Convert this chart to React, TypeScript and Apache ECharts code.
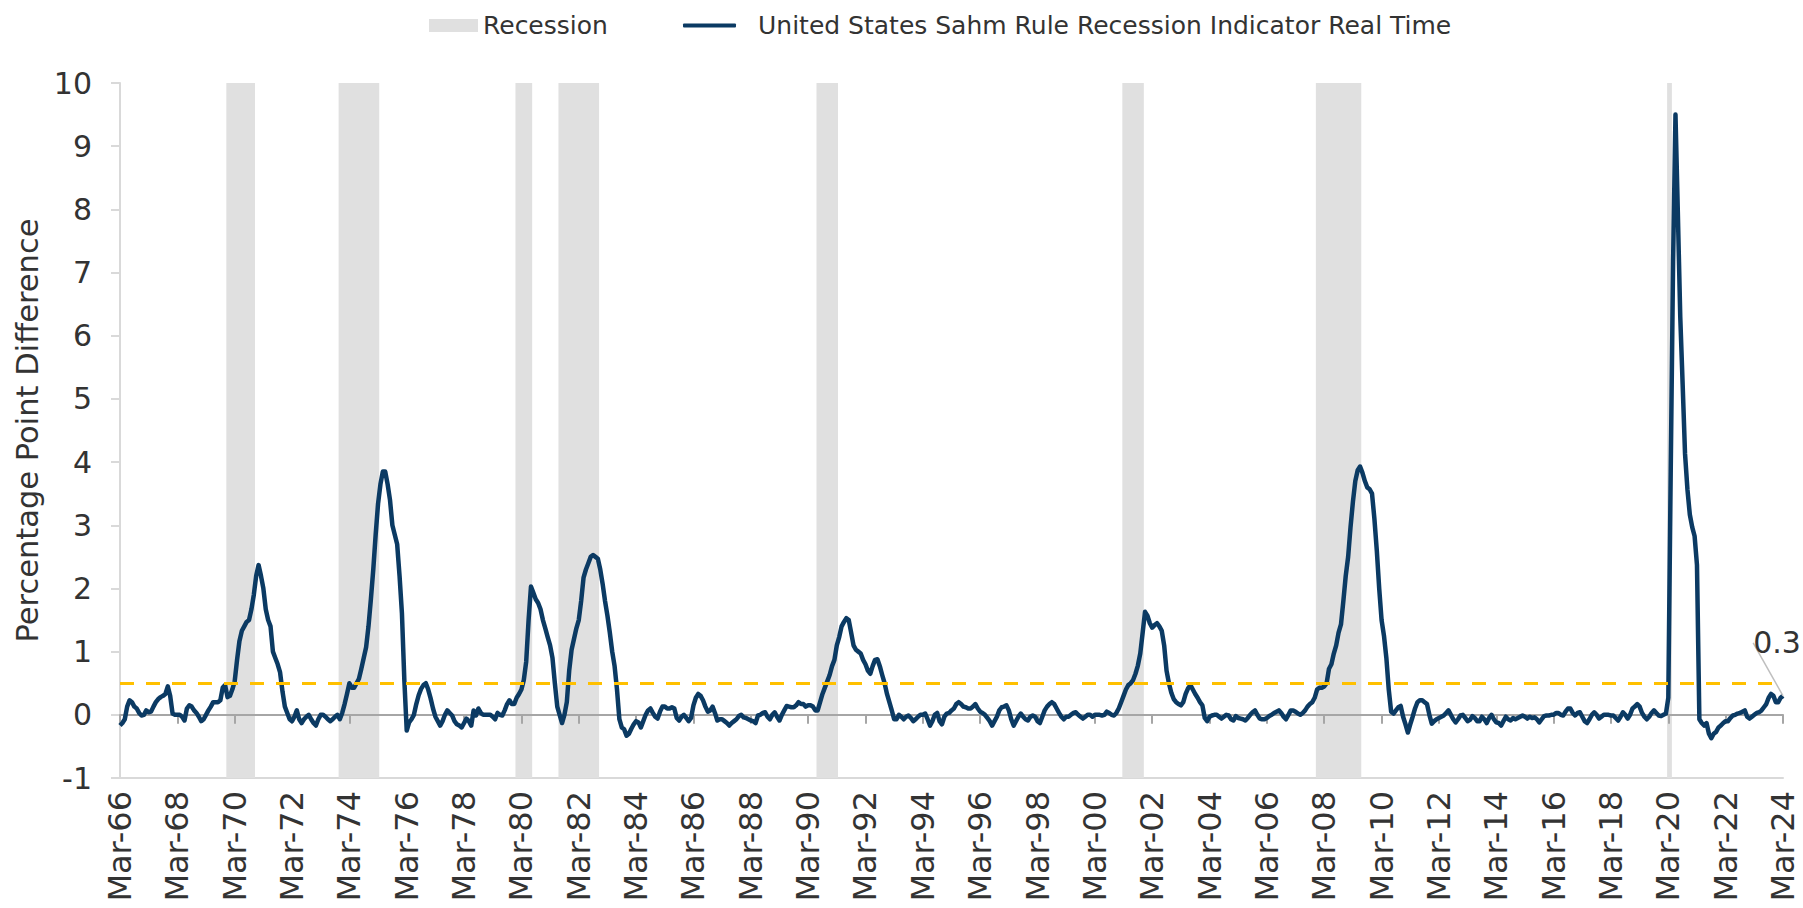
import React, { useEffect, useRef } from 'react';
import * as echarts from 'echarts';

const MONTHS = ['Jan', 'Feb', 'Mar', 'Apr', 'May', 'Jun', 'Jul', 'Aug', 'Sep', 'Oct', 'Nov', 'Dec'];
const START_YEAR = 1966;
const START_MONTH = 2; // March

const LINE_NAME = 'United States Sahm Rule Recession Indicator Real Time';
const RECESSION_NAME = 'Recession';
const THRESHOLD = 0.5;

// Mar-1966 .. Dec-1969
const sahm1960s = [
  -0.17, -0.13, -0.07, 0.13, 0.23, 0.2, 0.13, 0.1, 0.03, -0.01,
  0.0, 0.07, 0.04, 0.05, 0.13, 0.2, 0.25, 0.28, 0.3, 0.33, 0.45, 0.3,
  0.02, 0.0, 0.0, 0.0, -0.03, -0.09, 0.1, 0.15, 0.13, 0.07, 0.03, -0.03,
  -0.1, -0.07, 0.0, 0.07, 0.13, 0.2, 0.2, 0.2, 0.23, 0.43, 0.47, 0.28,
];

const sahm1970s = [
  0.3, 0.4, 0.53, 0.87, 1.17, 1.33, 1.4, 1.47, 1.5, 1.67, 1.9, 2.2,
  2.37, 2.2, 2.0, 1.67, 1.5, 1.4, 1.0, 0.9, 0.8, 0.67, 0.37, 0.13,
  0.03, -0.07, -0.1, -0.03, 0.07, -0.07, -0.13, -0.07, -0.03, 0.0, -0.07, -0.13,
  -0.17, -0.07, 0.0, 0.0, -0.03, -0.07, -0.1, -0.07, -0.03, 0.0, -0.07, 0.03,
  0.17, 0.33, 0.5, 0.43, 0.43, 0.5, 0.57, 0.73, 0.9, 1.07, 1.4, 1.83,
  2.3, 2.85, 3.34, 3.65, 3.85, 3.85, 3.65, 3.4, 3.0, 2.85, 2.7, 2.2,
  1.6, 0.55, -0.25, -0.12, -0.07, 0.0, 0.17, 0.31, 0.41, 0.47, 0.5, 0.4,
  0.26, 0.1, -0.03, -0.1, -0.17, -0.1, 0.0, 0.07, 0.03, -0.01, -0.1, -0.15,
  -0.17, -0.2, -0.13, -0.06, -0.1, -0.17, 0.07, -0.01, 0.1, 0.03, 0.0, 0.0,
  0.0, 0.0, -0.03, -0.07, 0.03, 0.0, -0.01, 0.07, 0.17, 0.23, 0.17, 0.17,
];

const sahm1980s = [
  0.27, 0.33, 0.4, 0.55, 0.84, 1.5, 2.03, 1.93, 1.83, 1.77, 1.67, 1.5,
  1.37, 1.23, 1.1, 0.9, 0.5, 0.13, 0.0, -0.13, 0.0, 0.2, 0.7, 1.03,
  1.2, 1.37, 1.5, 1.8, 2.17, 2.3, 2.4, 2.5, 2.53, 2.5, 2.47, 2.3,
  2.07, 1.8, 1.57, 1.3, 1.0, 0.77, 0.4, -0.07, -0.2, -0.23, -0.33, -0.3,
  -0.22, -0.15, -0.1, -0.12, -0.2, -0.1, 0.0, 0.07, 0.1, 0.03, -0.03, -0.06,
  0.05, 0.13, 0.13, 0.1, 0.1, 0.12, 0.1, -0.05, -0.09, -0.03, 0.0, -0.05,
  -0.1, -0.05, 0.15, 0.27, 0.33, 0.3, 0.23, 0.13, 0.05, 0.07, 0.13, 0.03,
  -0.09, -0.07, -0.07, -0.1, -0.13, -0.17, -0.13, -0.1, -0.07, -0.02, 0.0, -0.04,
  -0.05, -0.07, -0.09, -0.1, -0.13, -0.01, 0.0, 0.03, 0.04, -0.03, -0.07, 0.0,
  0.04, -0.03, -0.09, 0.0, 0.07, 0.14, 0.13, 0.12, 0.12, 0.15, 0.2, 0.17,
];

const sahm1990s = [
  0.17, 0.13, 0.15, 0.15, 0.13, 0.07, 0.07, 0.2, 0.33, 0.43, 0.53, 0.63,
  0.77, 0.87, 1.1, 1.23, 1.4, 1.47, 1.53, 1.5, 1.3, 1.1, 1.03, 1.0,
  0.97, 0.87, 0.8, 0.7, 0.65, 0.77, 0.87, 0.88, 0.77, 0.63, 0.5, 0.33,
  0.2, 0.07, -0.07, -0.07, 0.0, -0.03, -0.07, -0.03, -0.01, -0.05, -0.1, -0.07,
  -0.03, 0.0, 0.0, 0.02, -0.07, -0.17, -0.1, 0.0, 0.03, -0.1, -0.15, -0.03,
  0.02, 0.03, 0.07, 0.1, 0.17, 0.2, 0.17, 0.13, 0.12, 0.1, 0.1, 0.13,
  0.17, 0.1, 0.05, 0.03, 0.0, -0.05, -0.1, -0.17, -0.1, -0.03, 0.07, 0.12,
  0.13, 0.15, 0.07, -0.07, -0.17, -0.1, -0.03, 0.02, -0.03, -0.07, -0.09, -0.03,
  -0.01, -0.03, -0.1, -0.13, -0.03, 0.07, 0.13, 0.17, 0.2, 0.17, 0.1, 0.03,
  -0.03, -0.07, -0.03, -0.03, 0.0, 0.03, 0.04, 0.0, -0.03, -0.06, -0.03, 0.0,
];

const sahm2000s = [
  0.0, -0.03, 0.0, 0.0, 0.0, -0.01, 0.0, 0.05, 0.03, 0.0, -0.01, 0.03,
  0.1, 0.2, 0.3, 0.4, 0.47, 0.5, 0.55, 0.65, 0.78, 0.97, 1.3, 1.63,
  1.57, 1.45, 1.38, 1.42, 1.45, 1.4, 1.33, 1.1, 0.7, 0.5, 0.35, 0.25,
  0.2, 0.17, 0.15, 0.2, 0.33, 0.42, 0.47, 0.4, 0.33, 0.27, 0.2, 0.15,
  -0.05, -0.1, -0.03, -0.01, 0.0, 0.0, -0.03, -0.06, -0.03, 0.0, -0.01, -0.07,
  -0.09, -0.02, -0.05, -0.06, -0.07, -0.09, -0.05, 0.0, 0.04, 0.07, 0.0, -0.06,
  -0.07, -0.07, -0.05, -0.02, 0.0, 0.03, 0.05, 0.07, 0.03, -0.03, -0.07, 0.0,
  0.07, 0.07, 0.05, 0.02, 0.0, 0.03, 0.07, 0.13, 0.17, 0.2, 0.27, 0.4,
  0.43, 0.43, 0.45, 0.5, 0.73, 0.8, 0.97, 1.1, 1.3, 1.43, 1.8, 2.2,
  2.5, 2.97, 3.37, 3.7, 3.87, 3.93, 3.83, 3.7, 3.6, 3.57, 3.5, 3.1,
];

const sahm2010s = [
  2.6, 2.0, 1.5, 1.25, 0.9, 0.4, 0.05, 0.02, 0.07, 0.12, 0.14, -0.03,
  -0.15, -0.28, -0.15, -0.03, 0.1, 0.2, 0.23, 0.23, 0.2, 0.17, 0.0, -0.14,
  -0.1, -0.07, -0.05, -0.03, -0.01, 0.03, 0.07, 0.0, -0.07, -0.12, -0.07, -0.01,
  0.0, -0.05, -0.1, -0.08, -0.02, -0.05, -0.1, -0.1, -0.03, -0.07, -0.13, -0.05,
  0.0, -0.07, -0.12, -0.13, -0.17, -0.1, -0.03, -0.07, -0.09, -0.05, -0.07, -0.05,
  -0.03, -0.01, -0.03, -0.06, -0.03, -0.05, -0.04, -0.07, -0.12, -0.07, -0.02, -0.01,
  -0.01, 0.0, 0.0, 0.03, 0.03, 0.0, -0.01, 0.05, 0.1, 0.1, 0.03, -0.01,
  0.03, 0.04, -0.03, -0.1, -0.13, -0.07, 0.0, 0.04, 0.0, -0.06, -0.03, 0.0,
  0.0, 0.0, -0.01, -0.01, -0.05, -0.09, -0.03, 0.04, 0.0, -0.06, 0.0, 0.1,
  0.13, 0.17, 0.13, 0.03, -0.03, -0.07, -0.03, 0.03, 0.07, 0.03, -0.01, -0.02,
];

// Jan-2020 .. Mar-2024
const sahm2020s = [
  0.0, 0.02, 0.27, 3.83, 7.17, 9.5, 7.93, 6.3, 5.23, 4.13, 3.57, 3.17,
  2.97, 2.83, 2.37, -0.07, -0.13, -0.17, -0.13, -0.3, -0.37, -0.3, -0.27, -0.2,
  -0.17, -0.13, -0.1, -0.1, -0.05, -0.01, 0.0, 0.02, 0.03, 0.05, 0.07, -0.03,
  -0.06, -0.03, 0.0, 0.03, 0.04, 0.07, 0.12, 0.17, 0.27, 0.33, 0.3, 0.2,
  0.2, 0.27, 0.3,
];

const recessionStarts = ['Dec-69', 'Nov-73', 'Jan-80', 'Jul-81', 'Jul-90', 'Mar-01', 'Dec-07', 'Mar-20'];
const recessionEnds = ['Nov-70', 'Mar-75', 'Jul-80', 'Nov-82', 'Mar-91', 'Nov-01', 'Jun-09', 'Apr-20'];

const sahmValues = [
  ...sahm1960s, ...sahm1970s, ...sahm1980s, ...sahm1990s,
  ...sahm2000s, ...sahm2010s, ...sahm2020s,
];

const categories = sahmValues.map((_, i) => {
  const k = START_MONTH + i;
  const y = START_YEAR + Math.floor(k / 12);
  return `${MONTHS[k % 12]}-${String(y % 100).padStart(2, '0')}`;
});

const FONT = 'DejaVu Sans';
const TEXT = '#333333';
const NAVY = '#0b3a63';

export default function App() {
  const ref = useRef<HTMLDivElement>(null);

  useEffect(() => {
    if (!ref.current) return;
    const chart = echarts.init(ref.current, undefined, { renderer: 'svg' });
    const last = sahmValues.length - 1;

    const lineData = sahmValues.map((v, i) =>
      i === last
        ? {
            value: v,
            label: {
              show: true,
              position: 'top',
              distance: 0,
              formatter: '{c}',
              fontSize: 30,
              fontFamily: FONT,
              color: TEXT,
            },
          }
        : v,
    );

    const bands = recessionStarts.map((s, i) => [
      { xAxis: categories.indexOf(s) - 0.5 },
      { xAxis: categories.indexOf(recessionEnds[i]) + 0.5 },
    ]);

    chart.setOption({
      animation: false,
      textStyle: { fontFamily: FONT },
      legend: [
        {
          left: 424,
          top: 8,
          itemWidth: 49,
          itemHeight: 13,
          selectedMode: false,
          data: [{ name: RECESSION_NAME, icon: 'rect', itemStyle: { color: '#e0e0e0' } }],
          textStyle: { fontSize: 25, color: TEXT, fontFamily: FONT },
        },
        {
          left: 678,
          top: 8,
          itemWidth: 53,
          itemHeight: 4,
          selectedMode: false,
          data: [{ name: LINE_NAME, icon: 'roundRect', itemStyle: { color: NAVY } }],
          textStyle: { fontSize: 25, color: TEXT, fontFamily: FONT, padding: [0, 0, 0, 17] },
        },
      ],
      grid: { left: 120, right: 20, top: 83, bottom: 130, containLabel: false },
      xAxis: [
        {
          type: 'category',
          data: categories,
          boundaryGap: false,
          position: 'bottom',
          axisLine: { onZero: false, lineStyle: { color: '#d9d9d9', width: 2 } },
          axisTick: { show: false },
          axisLabel: {
            interval: 23,
            rotate: 90,
            margin: 13,
            fontSize: 32,
            color: TEXT,
            fontFamily: FONT,
          },
          splitLine: { show: false },
        },
        {
          type: 'category',
          data: categories,
          boundaryGap: false,
          position: 'bottom',
          z: 3,
          axisLine: { onZero: true, lineStyle: { color: '#a6a6a6', width: 2 } },
          axisTick: {
            show: true,
            interval: 23,
            length: 9,
            lineStyle: { color: '#a6a6a6', width: 2 },
          },
          axisLabel: { show: false },
          splitLine: { show: false },
        },
        {
          type: 'value',
          min: 0,
          max: last,
          show: false,
          splitLine: { show: false },
        },
      ],
      yAxis: {
        type: 'value',
        min: -1,
        max: 10,
        interval: 1,
        name: 'Percentage Point Difference',
        nameLocation: 'middle',
        nameGap: 76,
        nameTextStyle: { fontSize: 30.5, color: TEXT, fontFamily: FONT },
        axisLine: { show: true, lineStyle: { color: '#d9d9d9', width: 2 } },
        axisTick: { show: true, length: 9, lineStyle: { color: '#d9d9d9', width: 2 } },
        axisLabel: { fontSize: 30, color: TEXT, fontFamily: FONT, margin: 28 },
        splitLine: { show: false },
      },
      series: [
        {
          name: RECESSION_NAME,
          type: 'line',
          xAxisIndex: 2,
          yAxisIndex: 0,
          data: [],
          z: 1,
          silent: true,
          itemStyle: { color: '#e0e0e0' },
          lineStyle: { color: '#e0e0e0' },
          markArea: {
            silent: true,
            itemStyle: { color: '#e0e0e0' },
            data: bands,
          },
        },
        {
          name: 'threshold',
          type: 'line',
          xAxisIndex: 0,
          data: [],
          z: 3,
          silent: true,
          markLine: {
            silent: true,
            symbol: 'none',
            label: { show: false },
            lineStyle: { color: '#ffc000', width: 3, type: [14, 12] },
            data: [{ yAxis: THRESHOLD }],
          },
        },
        {
          name: LINE_NAME,
          type: 'line',
          xAxisIndex: 0,
          data: lineData,
          z: 4,
          symbol: 'circle',
          symbolSize: 0,
          showSymbol: true,
          showAllSymbol: true,
          color: NAVY,
          itemStyle: { color: NAVY },
          lineStyle: { color: NAVY, width: 4.5, join: 'round' },
          labelLayout: { dx: -6, dy: -38 },
          labelLine: { show: true, lineStyle: { color: '#bfbfbf', width: 1.5 } },
        },
      ],
    });

    return () => chart.dispose();
  }, []);

  return (
    <div
      ref={ref}
      style={{ position: 'fixed', left: 0, top: 0, width: 1803, height: 908, background: '#fff' }}
    />
  );
}
